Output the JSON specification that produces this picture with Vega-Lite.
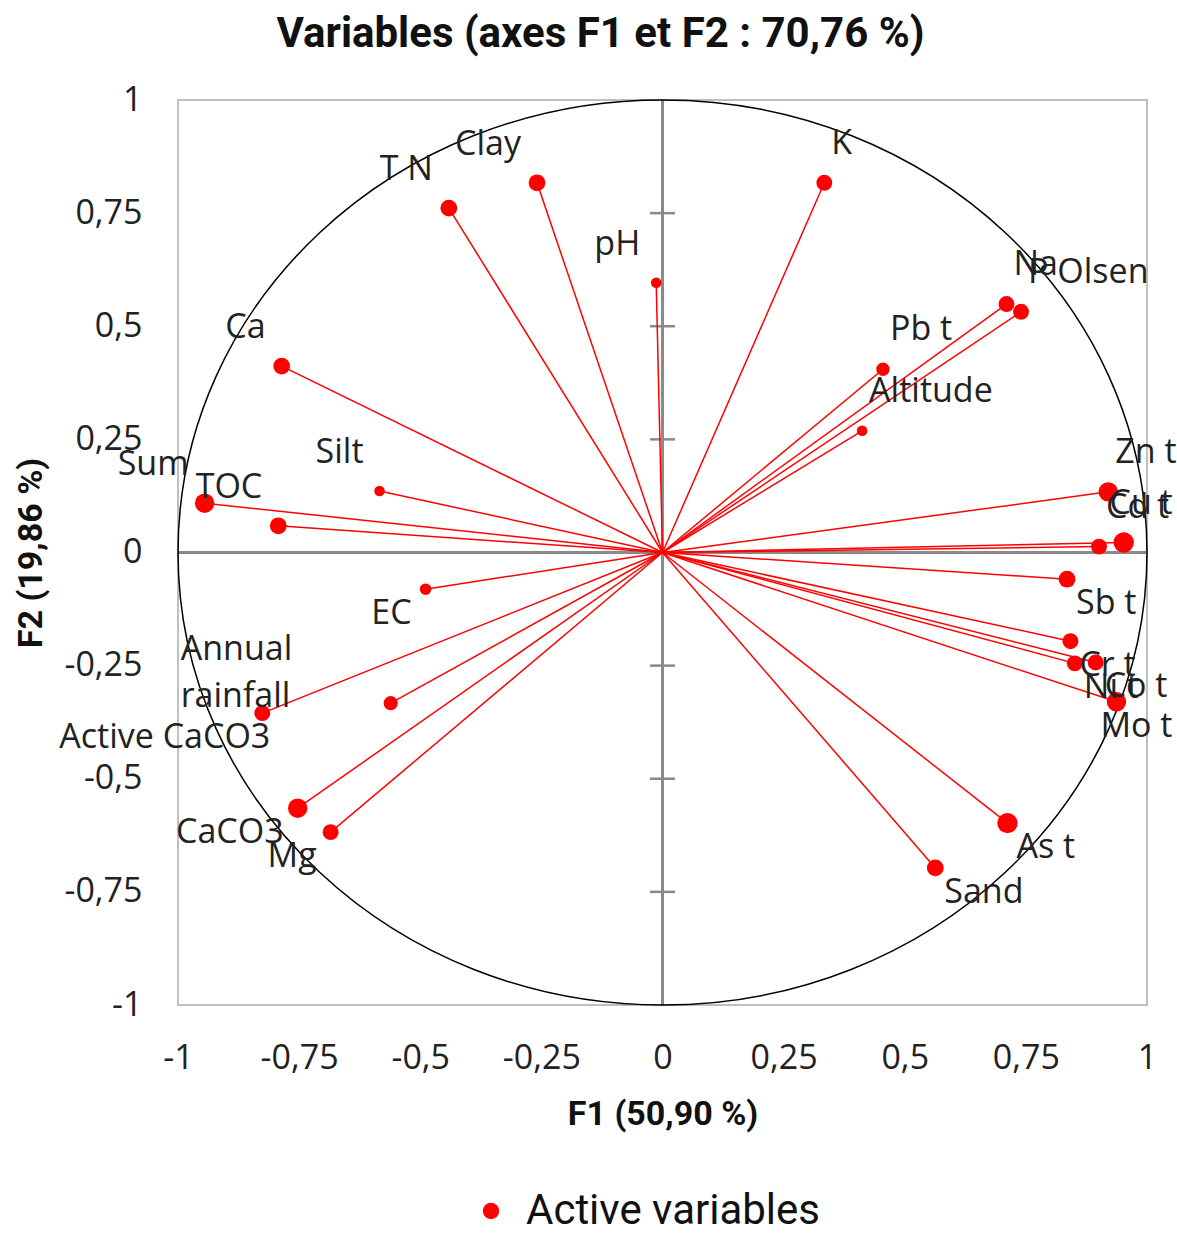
{
  "$schema": "https://vega.github.io/schema/vega-lite/v6.json",
  "width": 969,
  "height": 905,
  "autosize": {"type": "none"},
  "padding": {"left": 178, "top": 100, "right": 30, "bottom": 229},
  "background": "white",
  "config": {"view": {"stroke": "#bfbfbf", "strokeWidth": 2}, "font": "Open Sans"},
  "title": {"text": "Variables (axes F1 et F2 : 70,76 %)", "font": "Roboto", "fontSize": 42, "fontWeight": "bold", "color": "#111111", "anchor": "middle", "frame": "group", "offset": 27, "dx": -62},
  "datasets": {
    "vars": [
      {"name": "K", "F1": 0.334, "F2": 0.817, "q": 0.61},
      {"name": "Clay", "F1": -0.259, "F2": 0.817, "q": 0.68},
      {"name": "T N", "F1": -0.441, "F2": 0.761, "q": 0.68},
      {"name": "pH", "F1": -0.013, "F2": 0.596, "q": 0.27},
      {"name": "Na", "F1": 0.710, "F2": 0.549, "q": 0.61},
      {"name": "P Olsen", "F1": 0.740, "F2": 0.532, "q": 0.61},
      {"name": "Pb t", "F1": 0.455, "F2": 0.405, "q": 0.43},
      {"name": "Altitude", "F1": 0.412, "F2": 0.269, "q": 0.27},
      {"name": "Zn t", "F1": 0.920, "F2": 0.134, "q": 0.91},
      {"name": "Cd t", "F1": 0.901, "F2": 0.013, "q": 0.61},
      {"name": "Cu t", "F1": 0.952, "F2": 0.022, "q": 1.0},
      {"name": "Sb t", "F1": 0.835, "F2": -0.059, "q": 0.68},
      {"name": "Cr t", "F1": 0.842, "F2": -0.196, "q": 0.61},
      {"name": "Ni t", "F1": 0.851, "F2": -0.245, "q": 0.61},
      {"name": "Co t", "F1": 0.894, "F2": -0.243, "q": 0.61},
      {"name": "Mo t", "F1": 0.937, "F2": -0.330, "q": 0.91},
      {"name": "As t", "F1": 0.712, "F2": -0.598, "q": 1.0},
      {"name": "Sand", "F1": 0.563, "F2": -0.697, "q": 0.68},
      {"name": "Sum", "F1": -0.945, "F2": 0.109, "q": 0.91},
      {"name": "TOC", "F1": -0.793, "F2": 0.059, "q": 0.68},
      {"name": "Ca", "F1": -0.786, "F2": 0.412, "q": 0.68},
      {"name": "Silt", "F1": -0.584, "F2": 0.136, "q": 0.27},
      {"name": "EC", "F1": -0.489, "F2": -0.081, "q": 0.32},
      {"name": "Active CaCO3", "F1": -0.826, "F2": -0.355, "q": 0.61},
      {"name": "Annual rainfall", "F1": -0.561, "F2": -0.333, "q": 0.48},
      {"name": "CaCO3", "F1": -0.753, "F2": -0.565, "q": 0.91},
      {"name": "Mg", "F1": -0.685, "F2": -0.618, "q": 0.61}
    ],
    "ticks": [{"v": -0.75}, {"v": -0.5}, {"v": -0.25}, {"v": 0.25}, {"v": 0.5}, {"v": 0.75}],
    "origin": [{}]
  },
  "data": {"name": "vars"},
  "layer": [
    {
      "mark": {"type": "circle", "opacity": 0},
      "encoding": {
        "x": {"field": "F1", "type": "quantitative", "scale": {"domain": [-1, 1], "nice": false, "zero": false},
          "axis": {"title": "F1 (50,90 %)", "values": [-1, -0.75, -0.5, -0.25, 0, 0.25, 0.5, 0.75, 1], "labelExpr": "replace('' + datum.value, '.', ',')", "domain": false, "ticks": false, "tickSize": 0, "grid": false, "labelFont": "Open Sans", "labelFontSize": 34, "labelColor": "#222222", "labelPadding": 36, "labelFlush": false, "labelOverlap": false, "titleFont": "Roboto", "titleFontSize": 34, "titleFontWeight": "bold", "titleColor": "#111111", "titlePadding": 22}},
        "y": {"field": "F2", "type": "quantitative", "scale": {"domain": [-1, 1], "nice": false, "zero": false},
          "axis": {"title": "F2 (19,86 %)", "values": [-1, -0.75, -0.5, -0.25, 0, 0.25, 0.5, 0.75, 1], "labelExpr": "replace('' + datum.value, '.', ',')", "domain": false, "ticks": false, "tickSize": 0, "grid": false, "labelFont": "Open Sans", "labelFontSize": 34, "labelColor": "#222222", "labelPadding": 36, "labelFlush": false, "labelOverlap": false, "titleFont": "Roboto", "titleFontSize": 34, "titleFontWeight": "bold", "titleColor": "#111111", "titlePadding": 15}}
      }
    },
    {
      "data": {"name": "origin"},
      "mark": {"type": "rule", "color": "#8a8a8a", "strokeWidth": 3},
      "encoding": {"x": {"datum": 0, "type": "quantitative"}}
    },
    {
      "data": {"name": "origin"},
      "mark": {"type": "rule", "color": "#8a8a8a", "strokeWidth": 3},
      "encoding": {"y": {"datum": 0, "type": "quantitative"}}
    },
    {
      "data": {"name": "ticks"},
      "mark": {"type": "tick", "orient": "horizontal", "color": "#8a8a8a", "size": 25, "thickness": 2.5, "opacity": 1},
      "encoding": {
        "x": {"datum": 0, "type": "quantitative"},
        "y": {"field": "v", "type": "quantitative"}
      }
    },
    {
      "mark": {"type": "rule", "color": "#ff0000", "strokeWidth": 1.5},
      "encoding": {
        "x": {"field": "F1", "type": "quantitative"},
        "y": {"field": "F2", "type": "quantitative"},
        "x2": {"datum": 0},
        "y2": {"datum": 0}
      }
    },
    {
      "data": {"name": "origin"},
      "mark": {"type": "point", "shape": "M-1,0A1,0.934 0 1,1 1,0A1,0.934 0 1,1 -1,0Z", "size": 938961, "filled": false, "color": "#000000", "strokeWidth": 1.5, "opacity": 1},
      "encoding": {
        "x": {"datum": 0, "type": "quantitative"},
        "y": {"datum": 0, "type": "quantitative"}
      }
    },
    {
      "mark": {"type": "circle", "opacity": 1},
      "encoding": {
        "x": {"field": "F1", "type": "quantitative"},
        "y": {"field": "F2", "type": "quantitative"},
        "size": {"field": "q", "type": "quantitative", "scale": {"domain": [0, 1], "range": [0, 415], "zero": true}, "legend": null},
        "color": {"datum": "Active variables", "type": "nominal", "scale": {"range": ["#ff0000"]},
          "legend": {"orient": "none", "legendX": 292, "legendY": 1090, "title": null, "labelFont": "Roboto", "labelFontSize": 42, "labelColor": "#111111", "labelLimit": 0, "symbolSize": 270, "symbolType": "circle", "symbolStrokeWidth": 0, "labelOffset": 14, "padding": 0}}
      }
    },
    {
      "transform": [{"filter": "datum.F1 >= 0 && datum.F2 >= 0 && datum.name != 'Cu t'"}],
      "mark": {"type": "text", "align": "left", "baseline": "middle", "dx": 7, "dy": -39, "font": "Open Sans", "fontSize": 34, "color": "#222222"},
      "encoding": {
        "x": {"field": "F1", "type": "quantitative"},
        "y": {"field": "F2", "type": "quantitative"},
        "text": {"field": "name"}
      }
    },
    {
      "transform": [{"filter": "datum.F1 < 0 && datum.F2 >= 0"}],
      "mark": {"type": "text", "align": "right", "baseline": "middle", "dx": -16, "dy": -38, "font": "Open Sans", "fontSize": 34, "color": "#222222"},
      "encoding": {
        "x": {"field": "F1", "type": "quantitative"},
        "y": {"field": "F2", "type": "quantitative"},
        "text": {"field": "name"}
      }
    },
    {
      "transform": [{"filter": "datum.F1 >= 0 && datum.F2 < 0 && datum.name != 'Mo t'"}],
      "mark": {"type": "text", "align": "left", "baseline": "middle", "dx": 9, "dy": 25, "font": "Open Sans", "fontSize": 34, "color": "#222222"},
      "encoding": {
        "x": {"field": "F1", "type": "quantitative"},
        "y": {"field": "F2", "type": "quantitative"},
        "text": {"field": "name"}
      }
    },
    {
      "transform": [{"filter": "datum.F1 < 0 && datum.F2 < 0 && datum.name != 'Active CaCO3' && datum.name != 'Annual rainfall'"}],
      "mark": {"type": "text", "align": "right", "baseline": "middle", "dx": -14, "dy": 25, "font": "Open Sans", "fontSize": 34, "color": "#222222"},
      "encoding": {
        "x": {"field": "F1", "type": "quantitative"},
        "y": {"field": "F2", "type": "quantitative"},
        "text": {"field": "name"}
      }
    },
    {
      "transform": [{"filter": "datum.name == 'Cu t'"}],
      "mark": {"type": "text", "align": "right", "baseline": "middle", "dx": 49, "dy": -39, "font": "Open Sans", "fontSize": 34, "color": "#222222"},
      "encoding": {
        "x": {"field": "F1", "type": "quantitative"},
        "y": {"field": "F2", "type": "quantitative"},
        "text": {"field": "name"}
      }
    },
    {
      "transform": [{"filter": "datum.name == 'Mo t'"}],
      "mark": {"type": "text", "align": "right", "baseline": "middle", "dx": 56, "dy": 25, "font": "Open Sans", "fontSize": 34, "color": "#222222"},
      "encoding": {
        "x": {"field": "F1", "type": "quantitative"},
        "y": {"field": "F2", "type": "quantitative"},
        "text": {"field": "name"}
      }
    },
    {
      "transform": [{"filter": "datum.name == 'Active CaCO3'"}],
      "mark": {"type": "text", "align": "right", "baseline": "middle", "dx": 8, "dy": 25, "font": "Open Sans", "fontSize": 34, "color": "#222222"},
      "encoding": {
        "x": {"field": "F1", "type": "quantitative"},
        "y": {"field": "F2", "type": "quantitative"},
        "text": {"field": "name"}
      }
    },
    {
      "transform": [{"filter": "datum.name == 'Annual rainfall'"}],
      "mark": {"type": "text", "align": "left", "baseline": "middle", "dx": -210, "dy": -53, "lineBreak": " ", "lineHeight": 47, "font": "Open Sans", "fontSize": 34, "color": "#222222"},
      "encoding": {
        "x": {"field": "F1", "type": "quantitative"},
        "y": {"field": "F2", "type": "quantitative"},
        "text": {"field": "name"}
      }
    }
  ]
}
